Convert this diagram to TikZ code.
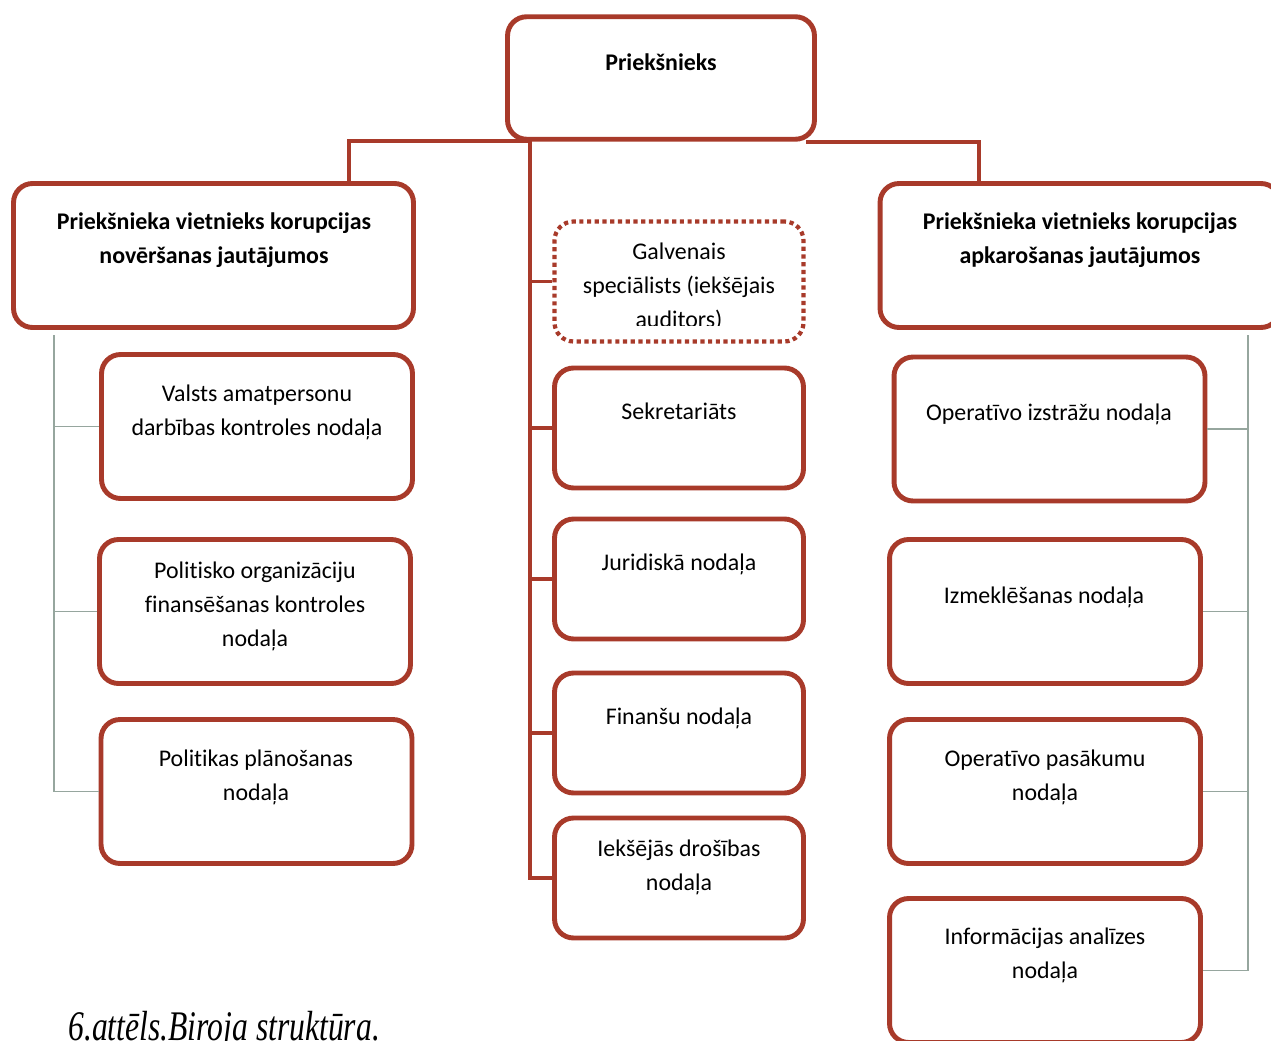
\documentclass[tikz,border=0pt]{standalone}
\usepackage{fontspec}
\setmainfont{Carlito}[Ligatures=NoCommon]
\newfontfamily\capfont{Liberation Serif}
\definecolor{brick}{RGB}{168,58,42}
\definecolor{sage}{RGB}{150,166,158}

\begin{document}
\begin{tikzpicture}[x=0.02cm, y=-0.02cm]
\tikzset{box/.style = {shape=rectangle, rounded corners=0.38cm, draw=brick, line width=2.8pt, minimum width=6.22cm, minimum height=2.88cm}}
\tikzset{unit/.style = {box, minimum width=4.98cm, minimum height=2.4cm}}
\tikzset{txt/.style = {anchor=base, align=center, inner sep=0pt, font=\fontsize{13.6}{19.3}\selectfont}}
\tikzset{head/.style = {txt, font=\fontsize{13.6}{19.3}\selectfont\bfseries}}
\tikzset{link/.style = {draw=brick, line width=2.2pt}}
\tikzset{sub/.style = {draw=sage, line width=1.1pt}}
\useasboundingbox (0,0) rectangle (1271,1041);
\clip (0,0) rectangle (1271,1041);
% boxes
\node[box, minimum width=6.14cm, minimum height=2.45cm](boss) at (661, 78) {};
\node[box, minimum width=8cm](dl) at (213.5, 255.5) {};
\node[box, minimum width=8cm](dr) at (1080, 255.5) {};
\node[unit, line width=2.4pt, dash pattern=on 2.4pt off 2pt](gs) at (679, 281.5) {};
\node[box](l1) at (257, 426.5) {};
\node[box](l2) at (255, 611.5) {};
\node[box](l3) at (256.5, 791.5) {};
\node[unit](m1) at (679, 428) {};
\node[unit](m2) at (679, 579) {};
\node[unit](m3) at (679, 733) {};
\node[unit](m4) at (679, 878) {};
\node[box](r1) at (1049.5, 429) {};
\node[box](r2) at (1045, 611.5) {};
\node[box](r3) at (1045, 791.5) {};
\node[box](r4) at (1045, 970.5) {};
% texts (base = last line)
\node[head](bosst) at (661, 70) {Priekšnieks};
\node[head](dlt) at (214, 263) {Priekšnieka vietnieks korupcijas\\novēršanas jautājumos};
\node[head](drt) at (1080, 263) {Priekšnieka vietnieks korupcijas\\apkarošanas jautājumos};
\begin{scope}
\clip ([yshift=0.36cm]gs.south west) rectangle (gs.north east);
\node[txt](gst) at (679, 327) {Galvenais\\speciālists (iekšējais\\auditors)};
\end{scope}
\node[txt](l1t) at (257, 435) {Valsts amatpersonu\\darbības kontroles nodaļa};
\node[txt](l2t) at (255, 646) {Politisko organizāciju\\finansēšanas kontroles\\nodaļa};
\node[txt](l3t) at (256, 800) {Politikas plānošanas\\nodaļa};
\node[txt](m1t) at (679, 419) {Sekretariāts};
\node[txt](m2t) at (679, 570) {Juridiskā nodaļa};
\node[txt](m3t) at (679, 724) {Finanšu nodaļa};
\node[txt](m4t) at (679, 890) {Iekšējās drošības\\nodaļa};
\node[txt](r1t) at (1049, 420) {Operatīvo izstrāžu nodaļa};
\node[txt](r2t) at (1044, 603) {Izmeklēšanas nodaļa};
\node[txt](r3t) at (1045, 800) {Operatīvo pasākumu\\nodaļa};
\node[txt](r4t) at (1045, 978) {Informācijas analīzes\\nodaļa};
% red lines
\coordinate (top) at (530, 141);
\draw[link] (top) -| ([xshift=2.71cm]dl.north);
\draw[link] ([xshift=-0.22cm]boss.south east) -| ([xshift=-2.02cm]dr.north);
\draw[link] (top) |- (gs.west);
\draw[link] (top) |- (m1.west);
\draw[link] (top) |- (m2.west);
\draw[link] (top) |- (m3.west);
\draw[link] (top) |- ([xshift=0.1cm]m4.west);
% grey lines
\coordinate (lt) at (54, 335);
\draw[sub] (lt) |- (l1.west);
\draw[sub] (lt) |- (l2.west);
\draw[sub] (lt) |- (l3.west);
\coordinate (rt) at (1248, 335);
\draw[sub] (rt) |- (r1.east);
\draw[sub] (rt) |- (r2.east);
\draw[sub] (rt) |- (r3.east);
\draw[sub] (rt) |- (r4.east);
\node[anchor=base west, inner sep=0pt, font=\fontsize{24}{28}\selectfont\capfont\itshape](cap) at (68, 1040) {\scalebox{0.75}[1]{6.attēls.Biroja struktūra.}};
\end{tikzpicture}
\end{document}
